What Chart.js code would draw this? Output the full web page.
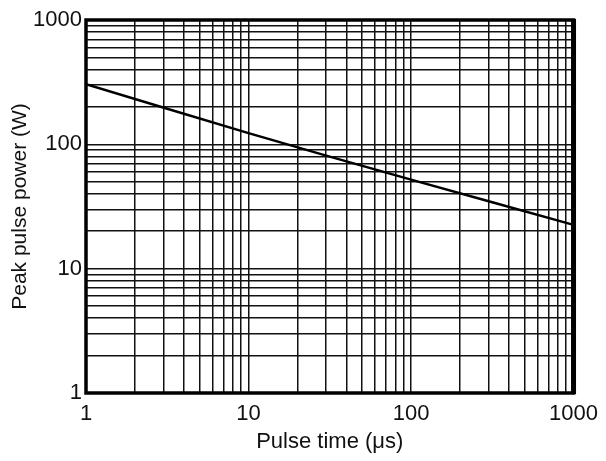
<!DOCTYPE html>
<html>
<head>
<meta charset="utf-8">
<script src="https://cdn.jsdelivr.net/npm/chart.js@4"></script>
<style>
  html, body { margin: 0; padding: 0; background: #fff; }
  #wrap { width: 606px; height: 461px; }
</style>
</head>
<body>
<div id="wrap"><canvas id="c" width="606" height="461"></canvas></div>
<script>
// Data
const pulseTime = [1, 10, 100, 1000];          // µs
const peakPower = [305, 123, 52, 22.5];        // W
const majorTicks = [1, 10, 100, 1000];
const tickLabels = ["1", "10", "100", "1000"];
const xTitle = "Pulse time (\u03bcs)";
const yTitle = "Peak pulse power (W)";

function logTicks(min, max) {
  const t = [];
  for (let d = min; d < max; d *= 10) {
    for (let m = 1; m < 10; m++) t.push({ value: d * m });
  }
  t.push({ value: max });
  return t;
}
function labelFor(v) {
  const i = majorTicks.findIndex(m => Math.abs(m - v) < 1e-9);
  return i >= 0 ? tickLabels[i] : "";
}

const borderPlugin = {
  id: "frame",
  afterDraw(chart) {
    const { ctx, chartArea: a } = chart;
    ctx.save();
    ctx.strokeStyle = "#000";
    ctx.lineWidth = 3.5;
    ctx.strokeRect(a.left, a.top, a.right - a.left, a.bottom - a.top);
    ctx.lineWidth = 5;
    ctx.beginPath();
    ctx.moveTo(a.right, a.top - 1);
    ctx.lineTo(a.right, a.bottom + 1);
    ctx.stroke();
    ctx.restore();
  }
};

const font = "'Liberation Sans', Arial, sans-serif";

new Chart(document.getElementById("c"), {
  type: "line",
  data: {
    datasets: [{
      data: pulseTime.map((x, i) => ({ x, y: peakPower[i] })),
      borderColor: "#000",
      borderWidth: 2.5,
      pointRadius: 0,
      tension: 0.3,
      fill: false
    }]
  },
  options: {
    responsive: false,
    animation: false,
    devicePixelRatio: 1,
    layout: { padding: { left: 0, right: 29, top: 20, bottom: 0 } },
    plugins: { legend: { display: false }, tooltip: { enabled: false } },
    scales: {
      x: {
        type: "logarithmic",
        min: 1, max: 1000,
        afterBuildTicks(s) { s.ticks = logTicks(1, 1000); },
        afterFit(s) { s.height = 68; },
        grid: { color: "#111", lineWidth: 1.5, drawTicks: false },
        border: { display: false },
        ticks: {
          autoSkip: false, maxRotation: 0, padding: 8,
          color: "#111",
          font: { family: font, size: 22 },
          callback: (v) => labelFor(v)
        },
        title: {
          display: true, text: xTitle, color: "#111",
          font: { family: font, size: 22 },
          padding: { top: 0, bottom: 6 }
        }
      },
      y: {
        type: "logarithmic",
        min: 1, max: 1000,
        afterBuildTicks(s) { s.ticks = logTicks(1, 1000); },
        afterFit(s) { s.width = 86; },
        grid: { color: "#111", lineWidth: 1.5, drawTicks: false },
        border: { display: false },
        ticks: {
          autoSkip: false, padding: 4,
          color: "#111",
          font: { family: font, size: 22 },
          callback: (v) => labelFor(v)
        },
        title: {
          display: true, text: yTitle, color: "#111",
          font: { family: font, size: 21 },
          padding: { top: 8, bottom: 0 }
        }
      }
    }
  },
  plugins: [borderPlugin]
});
</script>
</body>
</html>
